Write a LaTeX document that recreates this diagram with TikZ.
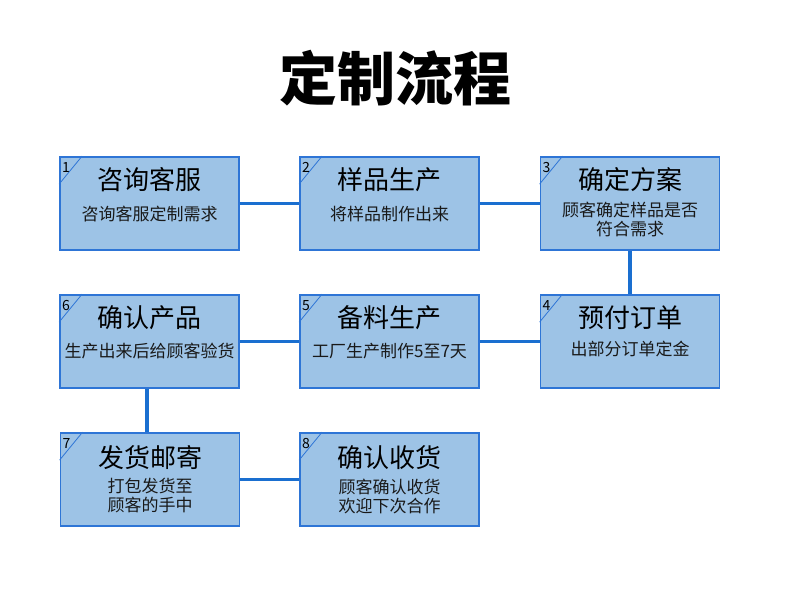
\documentclass[tikz,border=0pt]{standalone}
\usepackage{fontspec}
\newfontfamily\cjk{Noto Sans CJK SC}
\newfontfamily\cjkbold{Noto Sans CJK SC Black}
\definecolor{boxfill}{HTML}{9DC3E6}
\definecolor{boxline}{HTML}{2E75D6}
\definecolor{conn}{HTML}{1A6FD0}
\begin{document}
\begin{tikzpicture}[x=1pt,y=-1pt,
  stepbox/.style={draw=boxline,line width=1.8pt,fill=boxfill,minimum width=179pt,minimum height=93pt,inner sep=0pt},
  ttl/.style={font=\cjk\fontsize{26}{28}\selectfont,text=black},
  sub/.style={font=\cjk\fontsize{17}{19}\selectfont,text=black!90,align=center},
  num/.style={font=\cjk\fontsize{14}{14}\selectfont,text=black,anchor=center},
  link/.style={draw=conn,line width=3.5pt}]
\useasboundingbox (0,0) rectangle (790,614);
\node[font=\cjkbold\fontsize{58}{62}\selectfont] (title) at (395,78) {定制流程};
% boxes
\node[stepbox] (b1) at (149.5,203.5) {};
\node[stepbox] (b2) at (389.5,203.5) {};
\node[stepbox] (b3) at (630,203.5) {};
\node[stepbox] (b4) at (630,341.5) {};
\node[stepbox] (b5) at (389.5,341.5) {};
\node[stepbox] (b6) at (149.5,341.5) {};
\node[stepbox] (b7) at (150,479.5) {};
\node[stepbox] (b8) at (389.5,479.5) {};
% connectors
\draw[link] (b1.east) -- (b2.west);
\draw[link] (b2.east) -- (b3.west);
\draw[link] (b3.south) -- (b4.north);
\draw[link] (b4.west) -- (b5.east);
\draw[link] (b5.west) -- (b6.east);
\draw[link] ([xshift=-2.5pt]b6.south) -- ([xshift=-3pt]b7.north);
\draw[link] (b7.east) -- (b8.west);
% corner marks and numbers
\foreach \b/\n in {b1/1,b2/2,b3/3,b4/4,b5/5,b6/6,b7/7,b8/8}{
  \draw[boxline,line width=0.8pt] ([yshift=-28pt]\b.north west) -- ([xshift=23pt]\b.north west);
  \node[num] (n\n) at ([xshift=7pt,yshift=-11pt]\b.north west) {\n};
}
% texts
\node[ttl] (t1) at (149.5,180) {咨询客服};
\node[sub] (s1) at (149.5,214) {咨询客服定制需求};
\node[ttl] (t2) at (389.5,180) {样品生产};
\node[sub] (s2) at (389.5,214) {将样品制作出来};
\node[ttl] (t3) at (630,180) {确定方案};
\node[sub] (s3) at (630,219) {顾客确定样品是否\\符合需求};
\node[ttl] (t4) at (630,318) {预付订单};
\node[sub] (s4) at (630,349) {出部分订单定金};
\node[ttl] (t5) at (389.5,318) {备料生产};
\node[sub] (s5) at (389.5,351) {工厂生产制作5至7天};
\node[ttl] (t6) at (149.5,318) {确认产品};
\node[sub] (s6) at (149.5,351) {生产出来后给顾客验货};
\node[ttl] (t7) at (150,458) {发货邮寄};
\node[sub] (s7) at (150,496) {打包发货至\\顾客的手中};
\node[ttl] (t8) at (389.5,458) {确认收货};
\node[sub] (s8) at (389.5,496) {顾客确认收货\\欢迎下次合作};
\end{tikzpicture}
\end{document}
